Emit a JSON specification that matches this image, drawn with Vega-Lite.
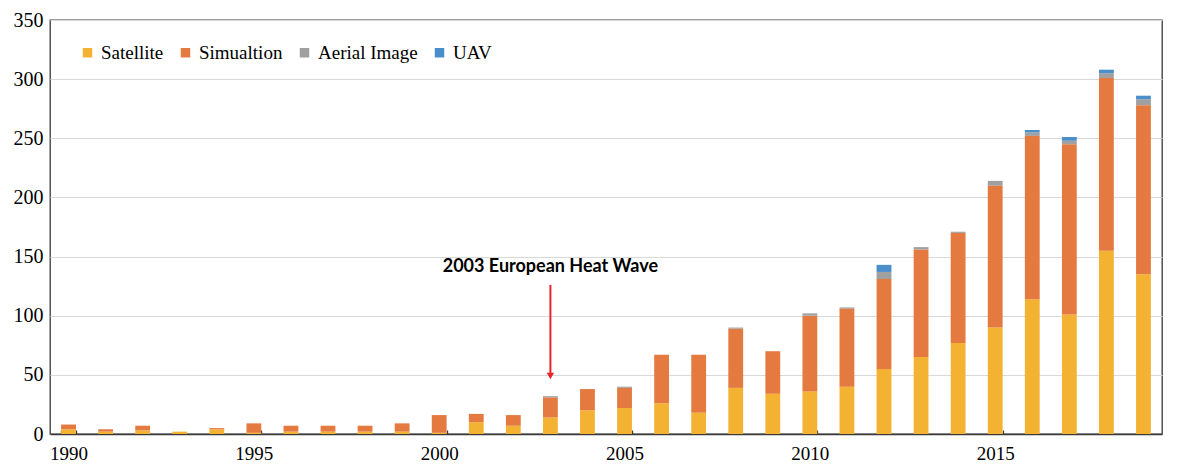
{
  "$schema": "https://vega.github.io/schema/vega-lite/v6.json",
  "width": 1112,
  "height": 414,
  "autosize": "none",
  "padding": {"left": 50, "top": 20, "right": 20, "bottom": 36},
  "background": "white",
  "config": {
    "view": {"stroke": "#3a3a3a", "strokeWidth": 1.3},
    "font": "Liberation Serif"
  },
  "datasets": {
    "pubs": [
      {"year": 1990, "Satellite": 4, "Simualtion": 4, "Aerial Image": 0, "UAV": 0},
      {"year": 1991, "Satellite": 2, "Simualtion": 2, "Aerial Image": 0, "UAV": 0},
      {"year": 1992, "Satellite": 3, "Simualtion": 4, "Aerial Image": 0, "UAV": 0},
      {"year": 1993, "Satellite": 2, "Simualtion": 0, "Aerial Image": 0, "UAV": 0},
      {"year": 1994, "Satellite": 4, "Simualtion": 1, "Aerial Image": 0, "UAV": 0},
      {"year": 1995, "Satellite": 1, "Simualtion": 8, "Aerial Image": 0, "UAV": 0},
      {"year": 1996, "Satellite": 2, "Simualtion": 5, "Aerial Image": 0, "UAV": 0},
      {"year": 1997, "Satellite": 2, "Simualtion": 5, "Aerial Image": 0, "UAV": 0},
      {"year": 1998, "Satellite": 2, "Simualtion": 5, "Aerial Image": 0, "UAV": 0},
      {"year": 1999, "Satellite": 2, "Simualtion": 7, "Aerial Image": 0, "UAV": 0},
      {"year": 2000, "Satellite": 1, "Simualtion": 15, "Aerial Image": 0, "UAV": 0},
      {"year": 2001, "Satellite": 10, "Simualtion": 7, "Aerial Image": 0, "UAV": 0},
      {"year": 2002, "Satellite": 7, "Simualtion": 9, "Aerial Image": 0, "UAV": 0},
      {"year": 2003, "Satellite": 14, "Simualtion": 17, "Aerial Image": 1, "UAV": 0},
      {"year": 2004, "Satellite": 20, "Simualtion": 18, "Aerial Image": 0, "UAV": 0},
      {"year": 2005, "Satellite": 22, "Simualtion": 17, "Aerial Image": 1, "UAV": 0},
      {"year": 2006, "Satellite": 26, "Simualtion": 41, "Aerial Image": 0, "UAV": 0},
      {"year": 2007, "Satellite": 18, "Simualtion": 49, "Aerial Image": 0, "UAV": 0},
      {"year": 2008, "Satellite": 39, "Simualtion": 50, "Aerial Image": 1, "UAV": 0},
      {"year": 2009, "Satellite": 34, "Simualtion": 36, "Aerial Image": 0, "UAV": 0},
      {"year": 2010, "Satellite": 36, "Simualtion": 64, "Aerial Image": 2, "UAV": 0},
      {"year": 2011, "Satellite": 40, "Simualtion": 66, "Aerial Image": 1, "UAV": 0},
      {"year": 2012, "Satellite": 55, "Simualtion": 76, "Aerial Image": 6, "UAV": 6},
      {"year": 2013, "Satellite": 65, "Simualtion": 91, "Aerial Image": 2, "UAV": 0},
      {"year": 2014, "Satellite": 77, "Simualtion": 93, "Aerial Image": 1, "UAV": 0},
      {"year": 2015, "Satellite": 90, "Simualtion": 120, "Aerial Image": 4, "UAV": 0},
      {"year": 2016, "Satellite": 114, "Simualtion": 138, "Aerial Image": 3, "UAV": 2},
      {"year": 2017, "Satellite": 101, "Simualtion": 144, "Aerial Image": 3, "UAV": 3},
      {"year": 2018, "Satellite": 155, "Simualtion": 146, "Aerial Image": 4, "UAV": 3},
      {"year": 2019, "Satellite": 135, "Simualtion": 143, "Aerial Image": 5, "UAV": 3}
    ],
    "sources": [
      {"source": "Satellite", "rank": 1},
      {"source": "Simualtion", "rank": 2},
      {"source": "Aerial Image", "rank": 3},
      {"source": "UAV", "rank": 4}
    ],
    "note": [
      {"year": 2003, "label": "2003 European Heat Wave"}
    ]
  },
  "layer": [
    {
      "data": {"name": "pubs"},
      "transform": [
        {"fold": ["Satellite", "Simualtion", "Aerial Image", "UAV"], "as": ["source", "count"]},
        {"lookup": "source", "from": {"data": {"name": "sources"}, "key": "source", "fields": ["rank"]}}
      ],
      "mark": {"type": "bar"},
      "encoding": {
        "x": {
          "field": "year",
          "type": "ordinal",
          "scale": {"paddingInner": 0.6, "paddingOuter": 0.3},
          "axis": {
            "title": null,
            "values": [1990, 1995, 2000, 2005, 2010, 2015],
            "labelAngle": 0,
            "labelFont": "Liberation Serif",
            "labelFontSize": 19,
            "labelColor": "#000000",
            "labelPadding": 14,
            "tickBand": "extent",
            "tickExtra": false,
            "tickSize": -4,
            "tickColor": "#3a3a3a",
            "tickWidth": 1.3,
            "domainColor": "#3a3a3a",
            "domainWidth": 1.3,
            "grid": false
          }
        },
        "y": {
          "field": "count",
          "type": "quantitative",
          "stack": "zero",
          "scale": {"domain": [0, 350], "nice": false},
          "axis": {
            "title": null,
            "values": [0, 50, 100, 150, 200, 250, 300, 350],
            "labelFont": "Liberation Serif",
            "labelFontSize": 20,
            "labelColor": "#000000",
            "labelPadding": 7,
            "ticks": false,
            "domain": false,
            "grid": true,
            "gridColor": "#d9d9d9",
            "gridWidth": 1
          }
        },
        "color": {
          "field": "source",
          "type": "nominal",
          "sort": ["Satellite", "Simualtion", "Aerial Image", "UAV"],
          "scale": {
            "domain": ["Satellite", "Simualtion", "Aerial Image", "UAV"],
            "range": ["#f4b233", "#e47a3f", "#a0a0a0", "#4a8fc9"]
          },
          "legend": {
            "title": null,
            "orient": "none",
            "legendX": 28,
            "legendY": 23,
            "direction": "horizontal",
            "symbolType": "square",
            "symbolSize": 90,
            "symbolStrokeWidth": 0,
            "labelFont": "Liberation Serif",
            "labelFontSize": 19,
            "labelColor": "#000000",
            "labelOffset": 4,
            "columnPadding": 12
          }
        },
        "order": {"field": "rank", "type": "quantitative", "sort": "ascending"}
      }
    },
    {
      "data": {"name": "note"},
      "mark": {"type": "rule", "color": "#e8262a", "strokeWidth": 2},
      "encoding": {
        "x": {"field": "year", "type": "ordinal"},
        "y": {"datum": 126},
        "y2": {"datum": 50}
      }
    },
    {
      "data": {"name": "note"},
      "mark": {"type": "point", "shape": "triangle-down", "filled": true, "color": "#e8262a", "size": 55, "opacity": 1},
      "encoding": {
        "x": {"field": "year", "type": "ordinal"},
        "y": {"datum": 49}
      }
    },
    {
      "data": {"name": "note"},
      "mark": {"type": "text", "font": "Lato", "fontWeight": "bold", "fontSize": 18, "color": "#000000", "align": "center", "baseline": "middle"},
      "encoding": {
        "x": {"field": "year", "type": "ordinal"},
        "y": {"datum": 141},
        "text": {"field": "label"}
      }
    }
  ]
}
